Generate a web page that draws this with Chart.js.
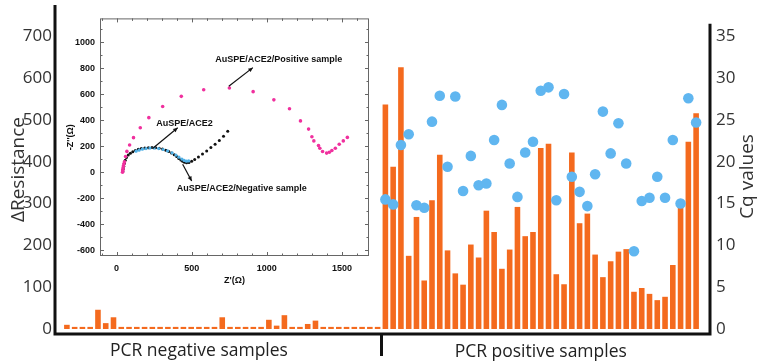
<!DOCTYPE html>
<html>
<head>
<meta charset="utf-8">
<script src="https://cdn.jsdelivr.net/npm/chart.js@4"></script>
<style>
  html, body { margin: 0; padding: 0; background: #fff; }
  #wrap { position: relative; width: 761px; height: 364px; }
  #main { position: absolute; left: 0; top: 0; }
  #inset { position: absolute; left: 60px; top: 8px; }
</style>
</head>
<body>
<div id="wrap">
  <canvas id="main" width="761" height="364"></canvas>
  <canvas id="inset" width="316" height="278"></canvas>
</div>
<script>
// ΔResistance of PCR negative samples
const negValues = [10, 5, 5, 5, 46, 14, 28, 5, 5, 5, 5, 5, 5, 5, 5, 5, 5, 5, 5, 5,
  28, 5, 5, 5, 5, 5, 22, 8, 33, 5, 5, 12, 20, 5, 5, 5, 5, 5, 5, 5, 5];
// ΔResistance of PCR positive samples
const posValues = [537, 388, 626, 175, 268, 116, 308, 417, 188, 133, 106, 202, 171, 283,
  232, 144, 190, 292, 222, 232, 433, 443, 131, 107, 422, 253, 276, 178, 124, 162, 185,
  191, 89, 98, 84, 69, 77, 153, 310, 448, 516];
// Cq values of the positive samples
const cqValues = [15.5, 14.9, 22.0, 23.3, 14.8, 14.5, 24.8, 27.9, 19.4, 27.8, 16.5, 20.7,
  17.2, 17.4, 22.6, 26.8, 19.8, 15.8, 21.1, 22.4, 28.5, 28.9, 15.4, 28.1, 18.2, 16.4,
  14.7, 18.5, 26.0, 21.0, 24.6, 19.8, 9.3, 15.3, 15.7, 18.2, 15.7, 22.6, 15.0, 27.6, 24.7];

const groupNames = ['PCR negative samples', 'PCR positive samples'];
const resTicks = [0, 100, 200, 300, 400, 500, 600, 700];
const cqTicks = [0, 5, 10, 15, 20, 25, 30, 35];
const cqAxisTop = 36.5;

// Nyquist inset: [Z', -Z'']
const positiveCurve = [[40, 0], [41, 10], [42, 20], [44, 35], [46, 50], [49, 65], [53, 80],
  [60, 121], [69, 160], [87, 210], [113, 266], [158, 342], [215, 420], [307, 506],
  [431, 584], [580, 635], [751, 648], [909, 620], [1047, 557], [1151, 488], [1224, 395],
  [1278, 332], [1300, 273], [1313, 241], [1344, 205], [1353, 185], [1371, 159], [1398, 147],
  [1416, 154], [1433, 167], [1456, 185], [1482, 215], [1509, 241], [1536, 268]];
const ace2Curve = [[42, 5], [45, 25], [48, 45], [52, 68], [58, 92], [66, 113], [78, 132],
  [92, 146], [108, 158], [125, 168], [145, 176], [165, 182], [188, 186], [212, 189],
  [236, 190], [260, 188], [284, 184], [306, 178], [328, 170], [348, 160], [366, 148],
  [384, 134], [400, 120], [414, 106], [428, 94], [440, 84], [452, 76], [466, 72],
  [482, 74], [500, 84], [520, 98], [545, 118], [572, 140], [600, 164], [628, 190],
  [656, 216], [684, 244], [712, 276], [740, 316]];
const negativeCurve = [[130, 162], [150, 170], [172, 177], [196, 182], [222, 186],
  [250, 186], [280, 182], [310, 175], [340, 164], [370, 149], [395, 132], [415, 116],
  [435, 101], [450, 91], [465, 85], [480, 87]];
const zrTicks = [0, 500, 1000, 1500];
const ziTicks = [-600, -400, -200, 0, 200, 400, 600, 800, 1000];
const minorStep = 100;
const notes = [
  { text: 'AuSPE/ACE2/Positive sample', at: [1080, 866], from: [747, 661], to: [907, 805] },
  { text: 'AuSPE/ACE2', at: [453, 372], from: [240, 182], to: [407, 342] },
  { text: 'AuSPE/ACE2/Negative sample', at: [833, -129], from: [440, 61], to: [500, -68] }
];

const labels = negValues.map((_, i) => 'N' + (i + 1))
  .concat(posValues.map((_, i) => 'P' + (i + 1)));

// axis lines, group divider, group names and right title
const axisFrame = {
  id: 'axisFrame',
  afterDraw(chart) {
    const { ctx, chartArea: a, scales } = chart;
    const leftX = a.left - 8, rightX = a.right + 10;
    const rightTop = scales.y1.getPixelForValue(cqAxisTop);
    const divX = (scales.x.getPixelForValue(negValues.length - 1) +
      scales.x.getPixelForValue(negValues.length)) / 2;
    ctx.save();
    ctx.strokeStyle = '#111';
    ctx.lineWidth = 3;
    ctx.beginPath();
    ctx.moveTo(leftX, a.top);
    ctx.lineTo(leftX, a.bottom);
    ctx.lineTo(rightX, a.bottom);
    ctx.lineTo(rightX, rightTop);
    ctx.moveTo(divX, a.bottom);
    ctx.lineTo(divX, a.bottom + 22);
    ctx.stroke();
    ctx.fillStyle = '#222';
    ctx.font = '17.5px "Open Sans"';
    ctx.textAlign = 'center';
    ctx.textBaseline = 'middle';
    ctx.fillText(groupNames[0], scales.x.getPixelForValue(17), a.bottom + 17);
    ctx.fillText(groupNames[1], scales.x.getPixelForValue(61), a.bottom + 18);
    ctx.translate(748, (a.top + a.bottom) / 2 + 7);
    ctx.rotate(-Math.PI / 2);
    ctx.fillStyle = '#333';
    ctx.font = '19px "Open Sans"';
    ctx.fillText('Cq values', 0, 0);
    ctx.restore();
  }
};

new Chart(document.getElementById('main'), {
  type: 'bar',
  data: {
    labels: labels,
    datasets: [{
      type: 'line',
      label: 'Cq values',
      data: negValues.map(() => null).concat(cqValues),
      showLine: false,
      pointRadius: 5.3,
      pointBorderWidth: 0,
      pointBackgroundColor: '#60b6f0',
      yAxisID: 'y1',
      order: 1
    }, {
      label: 'ΔResistance',
      data: negValues.concat(posValues),
      backgroundColor: '#f46a1e',
      barPercentage: 0.72,
      categoryPercentage: 1,
      yAxisID: 'y',
      order: 2
    }]
  },
  options: {
    responsive: false,
    animation: false,
    layout: { padding: { top: 5 }, autoPadding: false },
    plugins: { legend: { display: false }, tooltip: { enabled: false } },
    scales: {
      x: {
        grid: { display: false, drawTicks: false },
        border: { display: false },
        ticks: { display: false },
        afterFit: s => { s.height = 30; s.paddingLeft = 0; s.paddingRight = 0; }
      },
      y: {
        position: 'left',
        min: -12,
        max: 775,
        afterBuildTicks: s => { s.ticks = resTicks.map(v => ({ value: v })); },
        grid: { display: false, drawTicks: false },
        border: { display: false },
        ticks: { color: '#333', font: { family: 'Open Sans', size: 17 }, padding: 11 },
        title: {
          display: true, text: 'ΔResistance', color: '#333',
          font: { family: 'Open Sans', size: 19 }, padding: { top: 7, bottom: 0 }
        },
        afterFit: s => { s.width = 63; s.paddingTop = 0; s.paddingBottom = 0; }
      },
      y1: {
        position: 'right',
        min: -0.6,
        max: 38.75,
        afterBuildTicks: s => { s.ticks = cqTicks.map(v => ({ value: v })); },
        grid: { display: false, drawTicks: false },
        border: { display: false },
        ticks: { color: '#333', font: { family: 'Open Sans', size: 17 }, padding: 16 },
        afterFit: s => { s.width = 61; s.paddingTop = 0; s.paddingBottom = 0; }
      }
    }
  },
  plugins: [axisFrame]
});

// inset frame with inward ticks, plus annotation arrows
const insetFrame = {
  id: 'insetFrame',
  afterDraw(chart) {
    const { ctx, chartArea: a, scales } = chart;
    ctx.save();
    ctx.strokeStyle = '#666';
    ctx.lineWidth = 1;
    ctx.strokeRect(a.left + 0.5, a.top + 0.5, a.width - 1, a.height - 1);
    ctx.beginPath();
    for (let v = Math.ceil(scales.x.min / minorStep) * minorStep; v <= scales.x.max; v += minorStep) {
      const x = Math.round(scales.x.getPixelForValue(v)) + 0.5;
      const len = zrTicks.includes(v) ? 4 : 2.5;
      ctx.moveTo(x, a.bottom); ctx.lineTo(x, a.bottom - len);
      ctx.moveTo(x, a.top); ctx.lineTo(x, a.top + len);
    }
    for (let v = Math.ceil(scales.y.min / minorStep) * minorStep; v <= scales.y.max; v += minorStep) {
      const y = Math.round(scales.y.getPixelForValue(v)) + 0.5;
      const len = ziTicks.includes(v) ? 4 : 2.5;
      ctx.moveTo(a.left, y); ctx.lineTo(a.left + len, y);
      ctx.moveTo(a.right, y); ctx.lineTo(a.right - len, y);
    }
    ctx.stroke();

    ctx.fillStyle = '#111';
    ctx.strokeStyle = '#111';
    ctx.font = 'bold 9px "Liberation Sans"';
    ctx.textAlign = 'center';
    ctx.textBaseline = 'middle';
    notes.forEach(n => {
      ctx.fillText(n.text, scales.x.getPixelForValue(n.at[0]), scales.y.getPixelForValue(n.at[1]));
      const x1 = scales.x.getPixelForValue(n.from[0]), y1 = scales.y.getPixelForValue(n.from[1]);
      const x2 = scales.x.getPixelForValue(n.to[0]), y2 = scales.y.getPixelForValue(n.to[1]);
      const ang = Math.atan2(y2 - y1, x2 - x1);
      ctx.lineWidth = 1.2;
      ctx.beginPath();
      ctx.moveTo(x1, y1); ctx.lineTo(x2, y2);
      ctx.stroke();
      ctx.beginPath();
      ctx.moveTo(x2, y2);
      ctx.lineTo(x2 - 5 * Math.cos(ang - 0.45), y2 - 5 * Math.sin(ang - 0.45));
      ctx.lineTo(x2 - 5 * Math.cos(ang + 0.45), y2 - 5 * Math.sin(ang + 0.45));
      ctx.closePath();
      ctx.fill();
    });
    ctx.restore();
  }
};

const toPoints = arr => arr.map(p => ({ x: p[0], y: p[1] }));
const insetFont = { family: 'Liberation Sans', size: 9, weight: 'bold' };

new Chart(document.getElementById('inset'), {
  type: 'scatter',
  data: {
    datasets: [{
      label: 'AuSPE/ACE2/Positive sample',
      data: toPoints(positiveCurve),
      pointRadius: 1.8, pointBorderWidth: 0, pointBackgroundColor: '#f0309e'
    }, {
      label: 'AuSPE/ACE2/Negative sample',
      data: toPoints(negativeCurve),
      pointRadius: 1.6, pointBorderWidth: 0, pointBackgroundColor: '#4fb0e6'
    }, {
      label: 'AuSPE/ACE2',
      data: toPoints(ace2Curve),
      pointRadius: 1.5, pointBorderWidth: 0, pointBackgroundColor: '#111'
    }]
  },
  options: {
    responsive: false,
    animation: false,
    layout: { padding: { top: 7, right: 7 } },
    plugins: { legend: { display: false }, tooltip: { enabled: false } },
    scales: {
      x: {
        min: -110, max: 1680,
        afterBuildTicks: s => { s.ticks = zrTicks.map(v => ({ value: v })); },
        grid: { display: false, drawTicks: false },
        border: { display: false },
        ticks: { color: '#111', font: insetFont, padding: 7, maxRotation: 0, callback: v => String(v) },
        title: { display: true, text: 'Z\'(Ω)', color: '#111', font: insetFont, padding: 0 },
        afterFit: s => { s.height = 30; }
      },
      y: {
        min: -645, max: 1184,
        afterBuildTicks: s => { s.ticks = ziTicks.map(v => ({ value: v })); },
        grid: { display: false, drawTicks: false },
        border: { display: false },
        ticks: { color: '#111', font: insetFont, padding: 5, callback: v => String(v) },
        title: { display: true, text: '-Z\'\'(Ω)', color: '#111', font: insetFont, padding: { top: 5, bottom: 0 } },
        afterFit: s => { s.width = 40; }
      }
    }
  },
  plugins: [insetFrame]
});
</script>
</body>
</html>
